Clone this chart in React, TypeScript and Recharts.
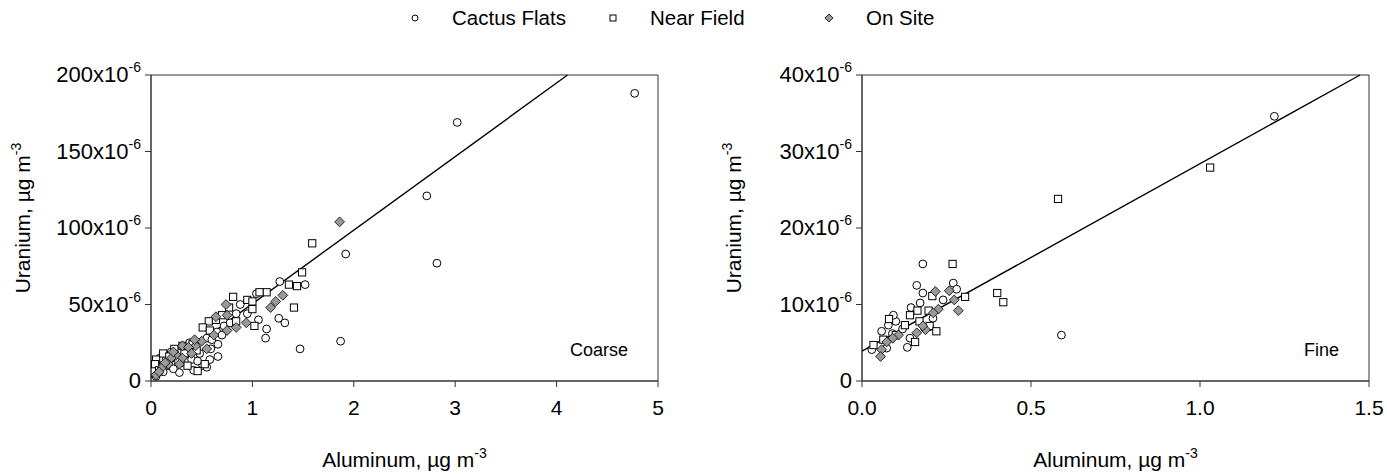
import React from "react"
import { Label, ReferenceArea, ReferenceLine, Scatter, ScatterChart, XAxis, YAxis } from "recharts"

// Values. Aluminum in µg m-3, uranium in units of 10^-6 µg m-3.
const coarseCactusFlats = [
  [4.77, 188], [3.02, 169], [2.72, 121], [1.92, 83], [2.82, 77], [1.52, 63], [1.87, 26], [1.47, 21],
  [1.27, 65], [1.04, 57], [0.88, 50], [0.84, 44], [1.06, 40], [1.26, 41], [1.32, 38], [1.14, 34],
  [1.13, 28], [0.66, 24], [0.66, 16], [0.59, 21], [0.4, 14], [0.51, 10], [0.55, 9], [0.28, 5.5],
  [0.09, 15], [0.17, 10], [0.46, 13], [0.35, 21], [0.65, 32], [0.72, 36], [0.55, 28], [0.48, 18],
  [0.3, 12], [0.22, 8], [0.12, 6], [0.05, 3], [0.38, 25], [0.6, 27], [0.25, 16], [0.15, 14],
  [0.05, 11], [0.42, 7], [0.7, 30], [0.95, 44], [0.78, 38], [0.33, 17], [0.58, 14], [0.2, 19],
]
const coarseNearField = [
  [1.59, 90], [1.49, 71], [1.36, 63], [1.44, 62], [1.14, 58], [1.07, 58], [0.81, 55], [0.95, 53],
  [1.0, 52], [1.0, 47], [1.41, 48], [0.77, 48], [0.84, 39], [1.02, 36], [0.57, 39], [0.51, 35],
  [0.58, 33], [0.23, 21], [0.31, 23], [0.05, 14], [0.04, 11], [0.36, 10], [0.46, 6.5], [0.53, 11],
  [0.12, 18], [0.18, 16], [0.41, 24], [0.64, 40], [0.7, 43], [0.27, 13], [0.08, 7], [0.45, 20],
  [0.33, 18],
]
const coarseOnSite = [
  [1.86, 104], [1.3, 56], [1.23, 52], [1.18, 48], [0.74, 50], [0.64, 42], [0.75, 43], [0.94, 38],
  [0.84, 35], [0.75, 33], [0.55, 21], [0.5, 26], [0.44, 23], [0.43, 27], [0.31, 23], [0.25, 17],
  [0.31, 15], [0.28, 11], [0.2, 15], [0.17, 11], [0.11, 9], [0.05, 4], [0.08, 6], [0.37, 22],
  [0.14, 12], [0.62, 30], [0.22, 19], [0.4, 18],
]

const fineCactusFlats = [
  [1.22, 34.6], [0.59, 6.0], [0.18, 15.3], [0.162, 12.5], [0.18, 11.5], [0.172, 10.2], [0.145, 9.6],
  [0.27, 12.8], [0.28, 12], [0.24, 10.6], [0.1, 7.8], [0.078, 7.3], [0.058, 6.5], [0.09, 6.2],
  [0.029, 4.1], [0.073, 4.3], [0.142, 5.6], [0.134, 4.4], [0.2, 7.1], [0.093, 8.6], [0.12, 6.8],
  [0.21, 8.2],
]
const fineNearField = [
  [1.03, 27.9], [0.58, 23.8], [0.4, 11.5], [0.418, 10.3], [0.268, 15.3], [0.208, 11.1], [0.305, 11],
  [0.164, 9.2], [0.142, 8.6], [0.197, 9.2], [0.08, 8.1], [0.127, 7.3], [0.17, 7.8], [0.2, 7.2],
  [0.034, 4.7], [0.063, 5.4], [0.157, 5.1], [0.1, 6.0], [0.22, 6.5],
]
const fineOnSite = [
  [0.217, 11.7], [0.258, 11.8], [0.273, 10.6], [0.285, 9.2], [0.226, 9.4], [0.211, 8.9], [0.188, 6.7],
  [0.18, 7.2], [0.162, 6.3], [0.108, 6.0], [0.091, 5.6], [0.073, 5.1], [0.058, 4.1], [0.055, 3.2],
]

const coarseXTicks = [0, 1, 2, 3, 4, 5]
const coarseYTicks = [0, 50, 100, 150, 200]
const fineXTicks = [0, 0.5, 1, 1.5]
const fineYTicks = [0, 10, 20, 30, 40]

// regression lines (intercept, slope) as drawn
const coarseFit = { intercept: 2.4, slope: 48.1 }
const fineFit = { intercept: 3.9, slope: 24.5 }

const seriesNames = ["Cactus Flats", "Near Field", "On Site"]

const FONT = '"Liberation Sans", Arial, Helvetica, sans-serif'
const AXIS = "#333"

const toPoints = (rows: number[][]) => rows.map(([x, y]) => ({ x, y }))

// markers
const CircleMark = ({ cx, cy, r = 3.9 }: any) => (
  <circle cx={cx} cy={cy} r={r} fill="#fff" stroke="#000" strokeWidth={1} />
)
const SquareMark = ({ cx, cy, s = 3.6 }: any) => (
  <rect x={cx - s} y={cy - s} width={s * 2} height={s * 2} fill="#fff" stroke="#000" strokeWidth={1} />
)
const DiamondMark = ({ cx, cy, s = 4.9 }: any) => (
  <polygon
    points={`${cx},${cy - s} ${cx + s},${cy} ${cx},${cy + s} ${cx - s},${cy}`}
    fill="#999"
    stroke="#000"
    strokeWidth={0.8}
  />
)

function YTick({ x, y, payload }: any) {
  const v = payload.value
  return (
    <text x={x} y={y} dy={7} textAnchor="end" fontSize={22} fontFamily={FONT} fill="#000">
      {v === 0 ? (
        "0"
      ) : (
        <>
          {v}x10
          <tspan dy={-10} fontSize={14}>
            -6
          </tspan>
        </>
      )}
    </text>
  )
}

function XTick({ x, y, payload, digits }: any) {
  return (
    <text x={x} y={y} dy={26} textAnchor="middle" fontSize={21} fontFamily={FONT} fill="#000">
      {payload.value.toFixed(digits)}
    </text>
  )
}

function XTitle({ viewBox }: any) {
  const { x, y, width, height } = viewBox
  return (
    <text x={x + width / 2} y={y + height - 7} textAnchor="middle" fontSize={21} fontFamily={FONT} fill="#000">
      Aluminum, µg m
      <tspan dy={-9} fontSize={14}>
        -3
      </tspan>
    </text>
  )
}

function YTitle({ viewBox }: any) {
  const { x, y, height } = viewBox
  const cx = x + 30
  const cy = y + height / 2 - 10
  return (
    <text
      x={cx}
      y={cy}
      transform={`rotate(-90, ${cx}, ${cy})`}
      textAnchor="middle"
      fontSize={21}
      fontFamily={FONT}
      fill="#000"
    >
      Uranium, µg m
      <tspan dy={-9} fontSize={14}>
        -3
      </tspan>
    </text>
  )
}

interface PanelProps {
  cactus: number[][]
  near: number[][]
  onSite: number[][]
  xTicks: number[]
  yTicks: number[]
  fit: { intercept: number; slope: number }
  digits: number
  tag: string
  width: number
}

function Panel({ cactus, near, onSite, xTicks, yTicks, fit, digits, tag, width }: PanelProps) {
  const xMax = xTicks[xTicks.length - 1]
  const yMax = yTicks[yTicks.length - 1]
  const xEnd = Math.min(xMax, (yMax - fit.intercept) / fit.slope)
  return (
    <ScatterChart width={width} height={474} margin={{ top: 75, right: width - 658, bottom: 0, left: 0 }}>
      <XAxis
        type="number"
        dataKey="x"
        domain={[0, xMax]}
        ticks={xTicks}
        allowDataOverflow
        height={93}
        stroke={AXIS}
        tickSize={6}
        tick={<XTick digits={digits} />}
      >
        <Label content={(p: any) => <XTitle viewBox={p.viewBox} />} />
      </XAxis>
      <YAxis
        type="number"
        dataKey="y"
        domain={[0, yMax]}
        ticks={yTicks}
        allowDataOverflow
        width={151}
        stroke={AXIS}
        tickSize={6}
        tickMargin={4}
        tick={<YTick />}
      >
        <Label content={(p: any) => <YTitle viewBox={p.viewBox} />} />
      </YAxis>
      <ReferenceArea x1={0} x2={xMax} y1={0} y2={yMax} fill="none" stroke={AXIS} strokeWidth={1} />
      <ReferenceLine
        segment={[
          { x: 0, y: fit.intercept },
          { x: xEnd, y: fit.intercept + fit.slope * xEnd },
        ]}
        stroke="#000"
        strokeWidth={1.4}
      />
      <Scatter name={seriesNames[0]} data={toPoints(cactus)} shape={<CircleMark />} isAnimationActive={false} />
      <Scatter name={seriesNames[1]} data={toPoints(near)} shape={<SquareMark />} isAnimationActive={false} />
      <Scatter name={seriesNames[2]} data={toPoints(onSite)} shape={<DiamondMark />} isAnimationActive={false} />
      <text x={628} y={356} textAnchor="end" fontSize={18} fontFamily={FONT} fill="#000">
        {tag}
      </text>
    </ScatterChart>
  )
}

function LegendIcon({ index }: { index: number }) {
  return (
    <svg width={12} height={12} style={{ display: "block" }}>
      {index === 0 && <CircleMark cx={6} cy={6} r={3} />}
      {index === 1 && <SquareMark cx={6} cy={6} s={3} />}
      {index === 2 && <DiamondMark cx={6} cy={6} s={4} />}
    </svg>
  )
}

export default function App() {
  const legendLeft = [409, 607, 823]
  return (
    <div
      style={{
        position: "absolute",
        left: 0,
        top: 0,
        width: 1387,
        height: 474,
        overflow: "hidden",
        background: "#fff",
        fontFamily: FONT,
      }}
    >
      {seriesNames.map((name, i) => (
        <div
          key={name}
          style={{ position: "absolute", left: legendLeft[i], top: 6, display: "flex", alignItems: "center", gap: 31 }}
        >
          <LegendIcon index={i} />
          <span style={{ fontSize: 20.5, lineHeight: "24px", color: "#000" }}>{name}</span>
        </div>
      ))}
      <div style={{ position: "absolute", left: 0, top: 0 }}>
        <Panel
          cactus={coarseCactusFlats}
          near={coarseNearField}
          onSite={coarseOnSite}
          xTicks={coarseXTicks}
          yTicks={coarseYTicks}
          fit={coarseFit}
          digits={0}
          tag="Coarse"
          width={711}
        />
      </div>
      <div style={{ position: "absolute", left: 711, top: 0 }}>
        <Panel
          cactus={fineCactusFlats}
          near={fineNearField}
          onSite={fineOnSite}
          xTicks={fineXTicks}
          yTicks={fineYTicks}
          fit={fineFit}
          digits={1}
          tag="Fine"
          width={676}
        />
      </div>
    </div>
  )
}
